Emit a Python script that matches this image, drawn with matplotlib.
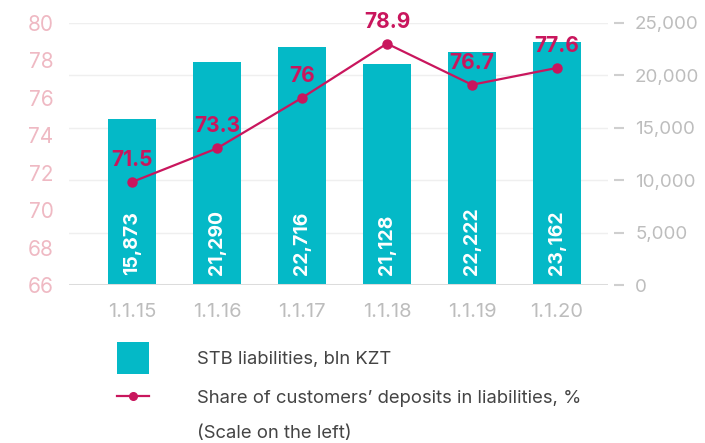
import matplotlib
matplotlib.use("Agg")
import matplotlib.pyplot as plt
from matplotlib.patches import Patch
from matplotlib.lines import Line2D

plt.rcParams['font.family'] = ['Inter', 'DejaVu Sans']

categories = ["1.1.15", "1.1.16", "1.1.17", "1.1.18", "1.1.19", "1.1.20"]
liabilities = [15873, 21290, 22716, 21128, 22222, 23162]
deposit_share = [71.5, 73.3, 76.0, 78.9, 76.7, 77.6]
share_labels = ["71.5", "73.3", "76", "78.9", "76.7", "77.6"]
left_ticks = [66, 68, 70, 72, 74, 76, 78, 80]
right_ticks = [0, 5000, 10000, 15000, 20000, 25000]

TEAL = "#04b9c7"
CRIMSON = "#c9165d"
PINK = "#efb9c3"
GRAY = "#bdbdbd"

fig = plt.figure(figsize=(7.05, 4.43), dpi=100)
ax = fig.add_axes([69/705, 1-285/443, (608-69)/705, (285-23)/443])
ax2 = ax.twinx()

x = list(range(len(categories)))

# Bars on right axis
ax2.bar(x, liabilities, width=0.565, color=TEAL, zorder=2)
ax2.set_ylim(0, 25000)
ax2.set_yticks(right_ticks)
ax2.set_yticklabels([f"{v:,}" for v in right_ticks])
ax2.set_axisbelow(True)
ax2.grid(axis='y', color='#efefef', linewidth=1.0, zorder=0)
for s in ['top', 'left', 'bottom']:
    ax2.spines[s].set_visible(False)
ax2.spines['right'].set_visible(False)
ax2.spines['right'].set_position(('outward', 4))
ax2.tick_params(axis='y', direction='out', length=7.5, width=1.5, color='#cfcfcf',
                pad=8, labelsize=13.5, labelcolor=GRAY)
ax2.axhline(0, color='#dcdcdc', linewidth=2.2, zorder=3)

for xi, v in zip(x, liabilities):
    ax2.annotate(f"{v:,}", xy=(xi, 0), xytext=(0, 7.5), textcoords='offset points',
                 rotation=90, ha='center', va='bottom', color='white',
                 fontsize=14, fontweight='bold', zorder=4)

# Line on left axis
ax.set_zorder(ax2.get_zorder() + 1)
ax.patch.set_visible(False)
ax.plot(x, deposit_share, color=CRIMSON, linewidth=1.6, marker='o', markersize=6.5, zorder=5)
ax.set_ylim(66, 80)
ax.set_yticks(left_ticks)
ax.set_xlim(-0.74, 5.6)
ax.set_xticks(x)
ax.set_xticklabels(categories)
for s in ax.spines.values():
    s.set_visible(False)
ax.tick_params(axis='y', length=0, pad=11, labelsize=15, labelcolor=PINK)
ax.tick_params(axis='x', length=0, pad=13, labelsize=14.5, labelcolor=GRAY)

for xi, v, lab in zip(x, deposit_share, share_labels):
    ax.annotate(lab, xy=(xi, v), xytext=(0, 11.5), textcoords='offset points',
                ha='center', va='baseline', color=CRIMSON, fontsize=15,
                fontweight='bold', zorder=6)

# Legend (two single-entry legends for precise placement)
common = dict(frameon=False, fontsize=13.3, handlelength=1.74, handletextpad=2.6,
              borderpad=0, borderaxespad=0, labelcolor='#444444', loc='center left')
fig.legend([Patch(facecolor=TEAL, edgecolor='none')], ["STB liabilities, bln KZT"],
           bbox_to_anchor=(117/705, 1-358/443), handleheight=2.28, **common)
fig.legend([Line2D([0], [0], color=CRIMSON, linewidth=1.6, marker='o', markersize=5.5)],
           ["Share of customers’ deposits in liabilities, %"],
           bbox_to_anchor=(117/705, 1-398/443), handleheight=1.0, **common)
fig.text(197/705, 1-433/443, "(Scale on the left)", fontsize=13.3, color='#444444',
         ha='left', va='center')

fig.savefig("out.png", dpi=100)
